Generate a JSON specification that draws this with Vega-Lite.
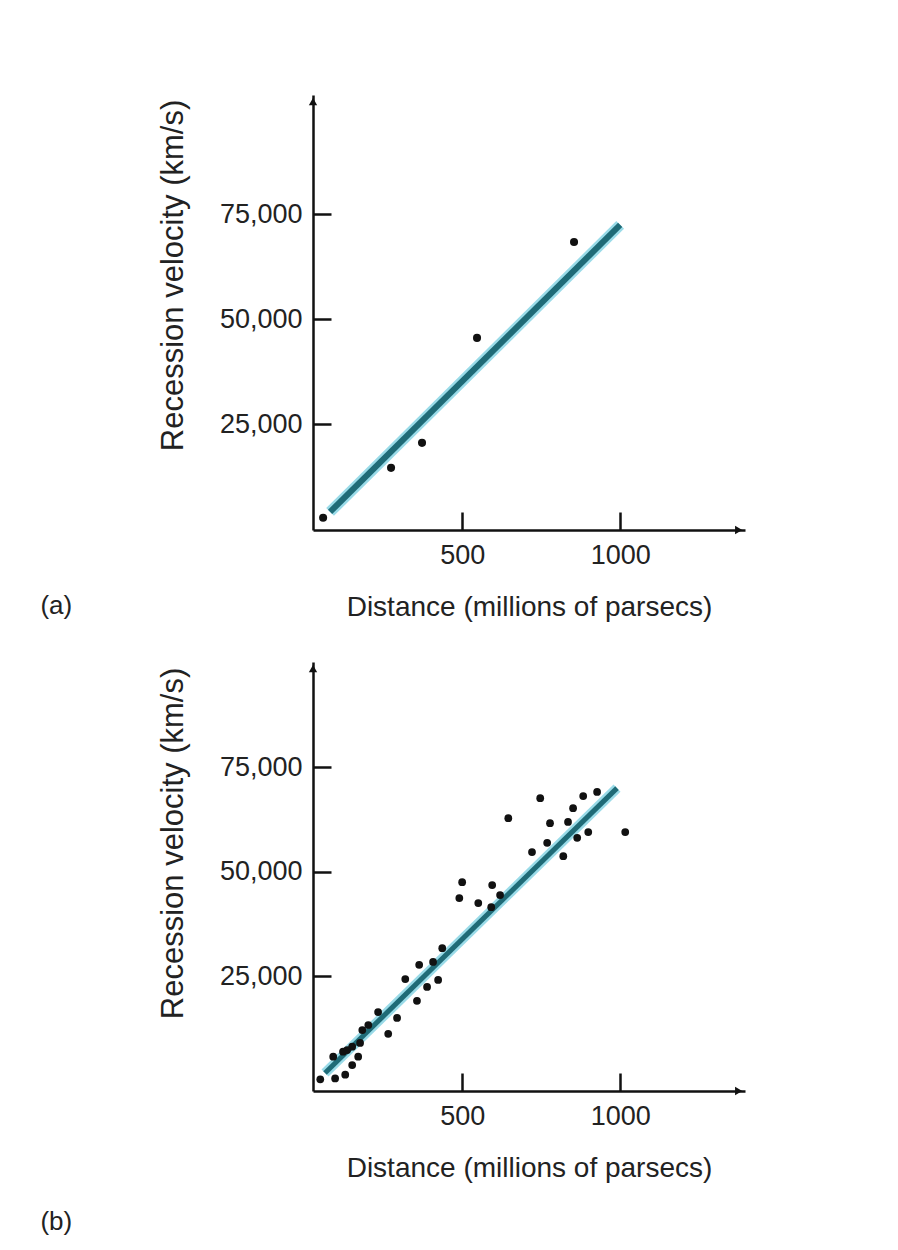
{
  "$schema": "https://vega.github.io/schema/vega-lite/v6.json",
  "background": "white",
  "padding": {"left": 40, "top": 95, "right": 10, "bottom": 10},
  "config": {
    "font": "Liberation Sans",
    "view": {"stroke": null},
    "axis": {
      "grid": false,
      "domainColor": "#111111",
      "domainWidth": 2.5,
      "tickColor": "#111111",
      "tickWidth": 2.5,
      "tickSize": -18,
      "labelFont": "Liberation Sans",
      "labelFontSize": 27,
      "labelColor": "#222222",
      "titleFont": "Liberation Sans",
      "titleFontSize": 28,
      "titleFontWeight": "normal",
      "titleColor": "#222222"
    },
    "axisY": {"titleFontSize": 31},
    "title": {"font": "Liberation Sans", "fontSize": 26, "fontWeight": "normal", "color": "#222222"},
    "concat": {"spacing": 41}
  },
  "datasets": {
    "a_points": [
      {"distance": 60, "velocity": 2700},
      {"distance": 275, "velocity": 14600},
      {"distance": 373, "velocity": 20550},
      {"distance": 547, "velocity": 45550},
      {"distance": 854, "velocity": 68400}
    ],
    "a_line": [
      {"distance": 82, "velocity": 4100},
      {"distance": 1000, "velocity": 72450}
    ],
    "a_arrows": [
      {"distance": 28, "velocity": 101800, "shape": "triangle-up"},
      {"distance": 1375, "velocity": -200, "shape": "triangle-right"}
    ],
    "b_points": [
      {"distance": 747, "velocity": 67600},
      {"distance": 883, "velocity": 68100},
      {"distance": 927, "velocity": 69100},
      {"distance": 646, "velocity": 62800},
      {"distance": 851, "velocity": 65200},
      {"distance": 778, "velocity": 61600},
      {"distance": 835, "velocity": 61900},
      {"distance": 1016, "velocity": 59500},
      {"distance": 899, "velocity": 59500},
      {"distance": 864, "velocity": 58100},
      {"distance": 769, "velocity": 56900},
      {"distance": 721, "velocity": 54700},
      {"distance": 820, "velocity": 53700},
      {"distance": 500, "velocity": 47500},
      {"distance": 491, "velocity": 43700},
      {"distance": 595, "velocity": 46800},
      {"distance": 620, "velocity": 44400},
      {"distance": 551, "velocity": 42500},
      {"distance": 592, "velocity": 41500},
      {"distance": 437, "velocity": 31700},
      {"distance": 408, "velocity": 28400},
      {"distance": 364, "velocity": 27700},
      {"distance": 320, "velocity": 24300},
      {"distance": 424, "velocity": 24100},
      {"distance": 389, "velocity": 22400},
      {"distance": 357, "velocity": 19100},
      {"distance": 294, "velocity": 15000},
      {"distance": 234, "velocity": 16400},
      {"distance": 266, "velocity": 11200},
      {"distance": 184, "velocity": 12100},
      {"distance": 203, "velocity": 13300},
      {"distance": 177, "velocity": 9000},
      {"distance": 152, "velocity": 8100},
      {"distance": 123, "velocity": 6900},
      {"distance": 92, "velocity": 5700},
      {"distance": 171, "velocity": 5700},
      {"distance": 152, "velocity": 3700},
      {"distance": 130, "velocity": 1400},
      {"distance": 98, "velocity": 500},
      {"distance": 51, "velocity": 300},
      {"distance": 136, "velocity": 7300}
    ],
    "b_line": [
      {"distance": 66, "velocity": 1800},
      {"distance": 990, "velocity": 70000}
    ],
    "b_arrows": [
      {"distance": 28, "velocity": 98600, "shape": "triangle-up"},
      {"distance": 1375, "velocity": -2500, "shape": "triangle-right"}
    ]
  },
  "vconcat": [
    {
      "width": 432,
      "height": 435,
      "title": {"text": "(a)", "orient": "bottom", "anchor": "start", "frame": "bounds", "dx": -117, "offset": -28},
      "encoding": {
        "x": {"field": "distance", "type": "quantitative", "scale": {"domain": [28, 1395], "nice": false, "zero": false},
              "axis": {"title": "Distance (millions of parsecs)", "values": [500, 1000], "format": "d", "labelPadding": 30, "titlePadding": 25}},
        "y": {"field": "velocity", "type": "quantitative", "scale": {"domain": [-200, 103400], "nice": false, "zero": false},
              "axis": {"title": "Recession velocity (km/s)", "values": [25000, 50000, 75000], "format": ",d", "labelPadding": 29, "titlePadding": 30, "titleY": 180}}
      },
      "layer": [
        {"data": {"name": "a_line"}, "mark": {"type": "line", "color": "#9adbe8", "strokeWidth": 11, "strokeCap": "butt"}},
        {"data": {"name": "a_line"}, "mark": {"type": "line", "color": "#1f6b77", "strokeWidth": 6, "strokeCap": "butt"}},
        {"data": {"name": "a_points"}, "mark": {"type": "circle", "color": "#111111", "size": 65, "opacity": 1}},
        {"data": {"name": "a_arrows"}, "mark": {"type": "point", "filled": true, "color": "#111111", "size": 70, "opacity": 1},
         "encoding": {"shape": {"field": "shape", "type": "nominal", "scale": null}}}
      ]
    },
    {
      "width": 432,
      "height": 429,
      "title": {"text": "(b)", "orient": "bottom", "anchor": "start", "frame": "bounds", "dx": -117, "offset": 27},
      "encoding": {
        "x": {"field": "distance", "type": "quantitative", "scale": {"domain": [28, 1395], "nice": false, "zero": false},
              "axis": {"title": "Distance (millions of parsecs)", "values": [500, 1000], "format": "d", "labelPadding": 30, "titlePadding": 25}},
        "y": {"field": "velocity", "type": "quantitative", "scale": {"domain": [-2500, 100200], "nice": false, "zero": false},
              "axis": {"title": "Recession velocity (km/s)", "values": [25000, 50000, 75000], "format": ",d", "labelPadding": 29, "titlePadding": 30, "titleY": 181}}
      },
      "layer": [
        {"data": {"name": "b_line"}, "mark": {"type": "line", "color": "#9adbe8", "strokeWidth": 10, "strokeCap": "butt"}},
        {"data": {"name": "b_line"}, "mark": {"type": "line", "color": "#1f6b77", "strokeWidth": 5, "strokeCap": "butt"}},
        {"data": {"name": "b_points"}, "mark": {"type": "circle", "color": "#111111", "size": 60, "opacity": 1}},
        {"data": {"name": "b_arrows"}, "mark": {"type": "point", "filled": true, "color": "#111111", "size": 70, "opacity": 1},
         "encoding": {"shape": {"field": "shape", "type": "nominal", "scale": null}}}
      ]
    }
  ]
}
